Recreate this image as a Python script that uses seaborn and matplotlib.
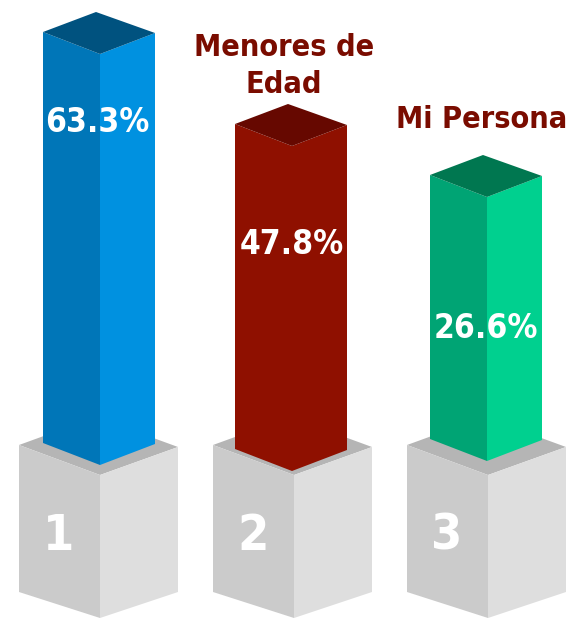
# Podium chart: three isometric bars standing on grey pedestals.
# Bars come from seaborn; each face is then sheared into the isometric view.
import matplotlib
matplotlib.use("Agg")
import matplotlib.pyplot as plt
from matplotlib.transforms import Affine2D
import pandas as pd
import seaborn as sns

W, H = 569, 618

ranks = ["1", "2", "3"]
names = ["", "Menores de\nEdad", "Mi Persona"]
percent_labels = ["63.3%", "47.8%", "26.6%"]
# drawn height of each column (not proportional to the %)
bar_heights = [411, 325, 264]

left_colors = ["#0076b8", "#8f1000", "#00a474"]
right_colors = ["#0091e0", "#8f1000", "#00d08f"]
top_colors = ["#00527f", "#660800", "#007750"]
PED_LEFT, PED_RIGHT, PED_TOP = "#cbcbcb", "#dedede", "#b5b5b5"
NAME_COLOR = "#7a0c00"

# layout, in pixels
PX = 194                      # distance between columns
FRONT0 = 100                  # x of the first column's front edge
BAR_L, BAR_R = 57, 55         # width of left / right face
BAR_BACK = (-4, 42)           # back corner of the top, from the front corner
BAR_RISE_L, BAR_RISE_R = 22, 21
bar_base = [465, 471, 461]    # pixel y of each column's front foot
bar_shift = [0, -2, -1]       # columns do not sit exactly centred on the pedestals
label_y = [122, 244, 328]
name_pos = [(0, 0), (284, 66), (482, 119)]


def to_y(py):
    return H - py


def dx(px):
    return px / PX


sns.set_theme(style="white")
plt.rcParams["font.family"] = ["DejaVu Sans"]
plt.rcParams["font.stretch"] = "condensed"

fig = plt.figure(figsize=(W / 100, H / 100), dpi=100)
ax = fig.add_axes([0, 0, 1, 1])

# ── pedestals ──
for i in range(3):
    ax.fill([i - dx(81), i, i + dx(78), i - dx(4)],
            [to_y(445), to_y(475), to_y(447), to_y(417)], color=PED_TOP, lw=0, zorder=0.5)
    ax.fill([i - dx(81), i, i, i - dx(81)],
            [to_y(445), to_y(475), to_y(618), to_y(592)], color=PED_LEFT, lw=0, zorder=0.6)
    ax.fill([i, i + dx(78), i + dx(78), i],
            [to_y(475), to_y(447), to_y(592), to_y(618)], color=PED_RIGHT, lw=0, zorder=0.6)

# ── columns: one bar per face ──
df = pd.DataFrame({
    "rank": ranks * 2,
    "face": ["left"] * 3 + ["right"] * 3,
    "height": bar_heights * 2,
})
sns.barplot(data=df, x="rank", y="height", hue="face", order=ranks,
            width=2 * dx(56), gap=0, legend=False, linewidth=0, ax=ax)

left_k = -BAR_RISE_L / BAR_L * PX
right_k = BAR_RISE_R / BAR_R * PX
for i, rect in enumerate(ax.containers[0]):
    front = i + dx(bar_shift[i])
    rect.set_x(front - dx(BAR_L))
    rect.set_width(dx(BAR_L))
    rect.set_y(to_y(bar_base[i]))
    rect.set_facecolor(left_colors[i])
    rect.set_transform(Affine2D.from_values(1, left_k, 0, 1, 0, -left_k * front) + ax.transData)
for i, rect in enumerate(ax.containers[1]):
    front = i + dx(bar_shift[i])
    rect.set_x(front)
    rect.set_width(dx(BAR_R))
    rect.set_y(to_y(bar_base[i]))
    rect.set_facecolor(right_colors[i])
    rect.set_transform(Affine2D.from_values(1, right_k, 0, 1, 0, -right_k * front) + ax.transData)

# ── column tops, from each column's height ──
for i, h in enumerate(bar_heights):
    top = to_y(bar_base[i]) + h
    front = i + dx(bar_shift[i])
    ax.fill([front, front - dx(BAR_L), front + dx(BAR_BACK[0]), front + dx(BAR_R)],
            [top, top + BAR_RISE_L, top + BAR_BACK[1], top + BAR_RISE_R],
            color=top_colors[i], lw=0, zorder=2)

# ── text ──
for i in range(3):
    ax.text(i - dx(2.5), to_y(label_y[i]), percent_labels[i], color="white",
            fontsize=24, fontweight="bold", ha="center", va="center", zorder=3)
    ax.text(i - dx(41), to_y(536), ranks[i], color="white",
            fontsize=36, fontweight="bold", ha="center", va="center", zorder=3)
    if names[i]:
        ax.text((name_pos[i][0] - FRONT0) / PX, to_y(name_pos[i][1]), names[i], color=NAME_COLOR,
                fontsize=22, fontweight="bold", ha="center", va="center",
                linespacing=1.39, zorder=3)

ax.set_xlim(-FRONT0 / PX, (W - FRONT0) / PX)
ax.set_ylim(0, H)
ax.axis("off")

fig.savefig("out.png", dpi=100)
print("Saved: out.png")
